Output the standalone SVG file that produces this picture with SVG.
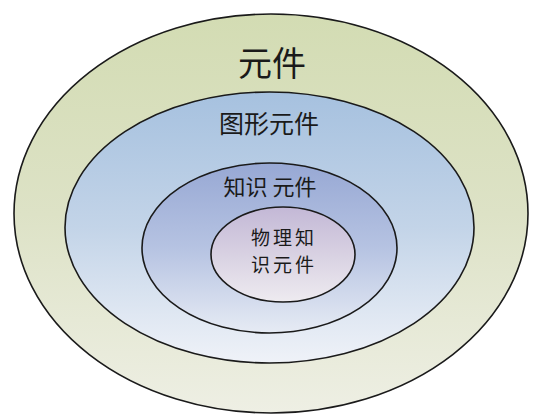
<svg xmlns="http://www.w3.org/2000/svg" width="538" height="420" viewBox="0 0 538 420">
<style>
.ring{stroke:#1a1a1a;stroke-width:1.6}
.t{font-family:"Noto Sans CJK SC","Noto Sans CJK JP",sans-serif;fill:#1a1a1a;text-anchor:middle}
</style>
<defs>
<linearGradient id="g1" x1="0" y1="0" x2="0" y2="1">
<stop offset="0" stop-color="#d3dcb3"/>
<stop offset="0.5" stop-color="#dde2c6"/>
<stop offset="1" stop-color="#eeefe4"/>
</linearGradient>
<linearGradient id="g2" x1="0" y1="0" x2="0" y2="1">
<stop offset="0" stop-color="#a6c1df"/>
<stop offset="0.5" stop-color="#c3d4e8"/>
<stop offset="1" stop-color="#eff2f8"/>
</linearGradient>
<linearGradient id="g3" x1="0" y1="0" x2="0" y2="1">
<stop offset="0" stop-color="#97a8d4"/>
<stop offset="0.5" stop-color="#b6c3e2"/>
<stop offset="1" stop-color="#e6ebf4"/>
</linearGradient>
<linearGradient id="g4" x1="0" y1="0" x2="0" y2="1">
<stop offset="0" stop-color="#c3b8d6"/>
<stop offset="0.5" stop-color="#d8d1e2"/>
<stop offset="1" stop-color="#eeebf0"/>
</linearGradient>
</defs>
<rect width="538" height="420" fill="#ffffff"/>
<g id="node-yuanjian">
<ellipse class="ring" cx="271" cy="213.5" rx="257" ry="199.5" fill="url(#g1)"/>
<text class="t" x="272" y="76" font-size="34">元件</text>
</g>
<g id="node-tuxing">
<ellipse class="ring" cx="269.5" cy="227.5" rx="204.5" ry="135.5" fill="url(#g2)"/>
<text class="t" x="269" y="133" font-size="25">图形元件</text>
</g>
<g id="node-zhishi">
<ellipse class="ring" cx="269.5" cy="248" rx="127.5" ry="85" fill="url(#g3)"/>
<text class="t" x="270" y="195" font-size="22">知识 元件</text>
</g>
<g id="node-wuli">
<ellipse class="ring" cx="283" cy="254.5" rx="72" ry="47.5" fill="url(#g4)"/>
<text class="t" x="284" y="245" font-size="19" letter-spacing="3">物理知</text>
<text class="t" x="284" y="272" font-size="19" letter-spacing="3">识元件</text>
</g>
<g id="connectors"></g>
</svg>
